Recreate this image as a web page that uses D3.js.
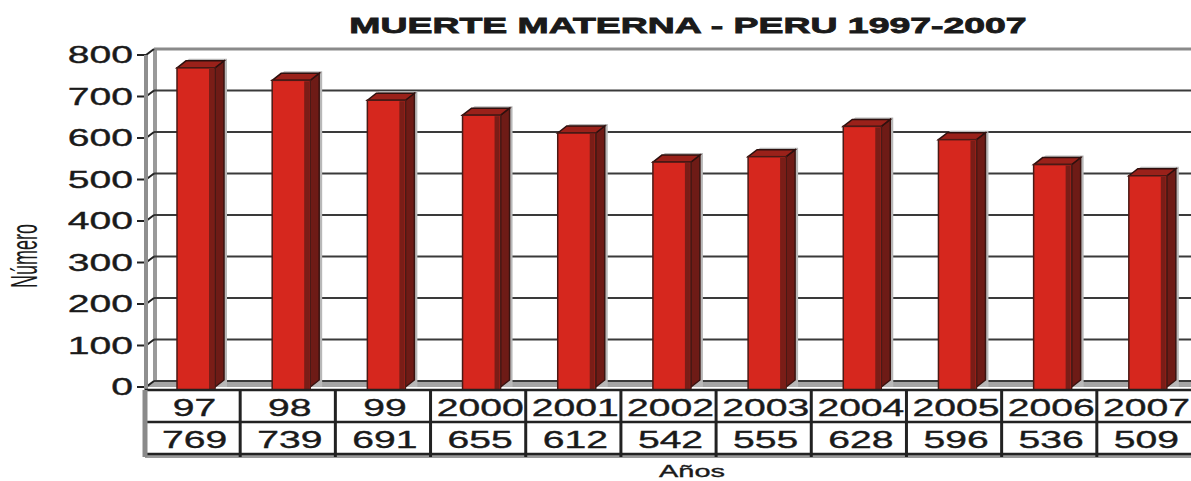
<!DOCTYPE html>
<html>
<head>
<meta charset="utf-8">
<script src="https://cdn.jsdelivr.net/npm/d3@7"></script>
<style>
  html, body { margin: 0; padding: 0; background: #fff; }
  svg { display: block; font-family: "Liberation Sans", Arial, sans-serif; }
</style>
</head>
<body>
<div id="viz"></div>
<script>
// data
const years = ["97", "98", "99", "2000", "2001", "2002", "2003", "2004", "2005", "2006", "2007"];
const deaths = [769, 739, 691, 655, 612, 542, 555, 628, 596, 536, 509];
const yTicks = [0, 100, 200, 300, 400, 500, 600, 700, 800];

const W = 1191, H = 481;
const SX = 1.7; // the original is stretched sideways
const depth = { dx: 9, dy: -6 }; // 3d offset of the back wall

const svg = d3.select("#viz").append("svg")
  .attr("width", W).attr("height", H);

const x = d3.scaleBand().domain(years).range([145, 1192]).padding(0);
const y = d3.scaleLinear().domain([0, 800]).range([387, 55]);

// stretched text helper
function label(g, px, py, txt, size, anchor, weight) {
  return g.append("text")
    .attr("transform", `translate(${px},${py}) scale(${SX},1)`)
    .attr("text-anchor", anchor)
    .attr("font-size", size)
    .attr("font-weight", weight || "normal")
    .attr("fill", "#1a1a1a")
    .attr("stroke", "#1a1a1a").attr("stroke-width", 0.35)
    .text(txt);
}

// back wall + floor
const wallX0 = 145 + depth.dx;
svg.append("rect")
  .attr("x", wallX0).attr("y", y(800) + depth.dy)
  .attr("width", W - wallX0).attr("height", y(0) - y(800))
  .attr("fill", "#fff");

// floor
svg.append("path")
  .attr("d", `M145,${y(0)} L${wallX0},${y(0) + depth.dy} L${W},${y(0) + depth.dy} L${W},${y(0)} Z`)
  .attr("fill", "#a5a5a5");

// left wall
svg.append("line")
  .attr("x1", wallX0 + 1).attr("x2", wallX0 + 1)
  .attr("y1", y(800) + depth.dy).attr("y2", y(0) + depth.dy)
  .attr("stroke", "#9a9a9a").attr("stroke-width", 4);

// gridlines + ticks
const grid = svg.append("g");
yTicks.forEach(v => {
  const yf = y(v), yb = y(v) + depth.dy;
  grid.append("line")
    .attr("x1", wallX0).attr("x2", W).attr("y1", yb).attr("y2", yb)
    .attr("stroke", v === 800 ? "#8a8a8a" : "#3a3a3a")
    .attr("stroke-width", v === 800 ? 3 : 2);
  grid.append("path")
    .attr("d", `M137,${yf} L146,${yf} L${wallX0},${yb}`)
    .attr("fill", "none").attr("stroke", "#222").attr("stroke-width", 2);
  label(grid, 133, yf + 8, v, 23, "end");
});

// front axis
svg.append("line")
  .attr("x1", 146).attr("x2", 146).attr("y1", y(800)).attr("y2", y(0) + 3)
  .attr("stroke", "#8f8f8f").attr("stroke-width", 4);

// bars
const bw = 38, bd = { dx: 9, dy: -7 };
const bars = svg.append("g").selectAll("g").data(deaths).join("g")
  .attr("transform", (d, i) => `translate(${x(years[i]) + 32},0)`);

// soft shadow
bars.append("path")
  .attr("d", d => {
    const t = y(d), b = y(0);
    return `M3,${t - 2} L${bd.dx + 3},${t + bd.dy - 2} L${bw + bd.dx + 3},${t + bd.dy - 2} L${bw + bd.dx + 3},${b} L3,${b} Z`;
  })
  .attr("fill", "#b8b8b8");

// side face
bars.append("path")
  .attr("d", d => {
    const t = y(d), b = y(0);
    return `M${bw},${t} L${bw + bd.dx},${t + bd.dy} L${bw + bd.dx},${b + bd.dy} L${bw},${b} Z`;
  })
  .attr("fill", "#6e1b16").attr("stroke", "#3a1310").attr("stroke-width", 1.5);

// top face
bars.append("path")
  .attr("d", d => {
    const t = y(d);
    return `M0,${t} L${bd.dx},${t + bd.dy} L${bw + bd.dx},${t + bd.dy} L${bw},${t} Z`;
  })
  .attr("fill", "#9a211a").attr("stroke", "#2e100e").attr("stroke-width", 1.5);

// front face
bars.append("rect")
  .attr("x", 0).attr("y", d => y(d))
  .attr("width", bw).attr("height", d => y(0) - y(d) + 3)
  .attr("fill", "#d6271e").attr("stroke", "#4a1a16").attr("stroke-width", 1.5);

bars.append("rect")
  .attr("x", bw - 6).attr("y", d => y(d) + 1)
  .attr("width", 5).attr("height", d => y(0) - y(d) + 1)
  .attr("fill", "#7a1d17");

// data table
const rowTop = 390, rowMid = 422, rowBot = 454;
const table = svg.append("g");
table.append("rect")
  .attr("x", 145).attr("y", rowBot).attr("width", W - 145).attr("height", 4)
  .attr("fill", "#9a9a9a");
table.append("rect")
  .attr("x", 145).attr("y", rowTop).attr("width", W - 145).attr("height", rowBot - rowTop)
  .attr("fill", "#fff");
[rowTop, rowMid, rowBot].forEach(ry => {
  table.append("line")
    .attr("x1", 145).attr("x2", W).attr("y1", ry).attr("y2", ry)
    .attr("stroke", "#222").attr("stroke-width", 2.5);
});
table.append("line")
  .attr("x1", 145).attr("x2", 145).attr("y1", rowTop).attr("y2", rowBot + 3)
  .attr("stroke", "#8a8a8a").attr("stroke-width", 5);
years.forEach((yr, i) => {
  if (i > 0) {
    table.append("line")
      .attr("x1", x(yr)).attr("x2", x(yr)).attr("y1", rowTop).attr("y2", rowBot + 3)
      .attr("stroke", "#222").attr("stroke-width", 3);
  }
  const cx = x(yr) + x.bandwidth() / 2 + 2;
  label(table, cx, 416, yr, 23, "middle");
  label(table, cx, 448, deaths[i], 23, "middle");
});

// titles
label(svg, 688, 33, "MUERTE MATERNA - PERU 1997-2007", 22, "middle", "bold")
  .attr("stroke-width", 0.8);
label(svg, 692, 477, "Años", 17, "middle");
svg.append("text")
  .attr("transform", `translate(37,256) scale(2.1,1) rotate(-90)`)
  .attr("text-anchor", "middle")
  .attr("font-size", 18)
  .attr("fill", "#1a1a1a")
  .text("Número");
</script>
</body>
</html>
